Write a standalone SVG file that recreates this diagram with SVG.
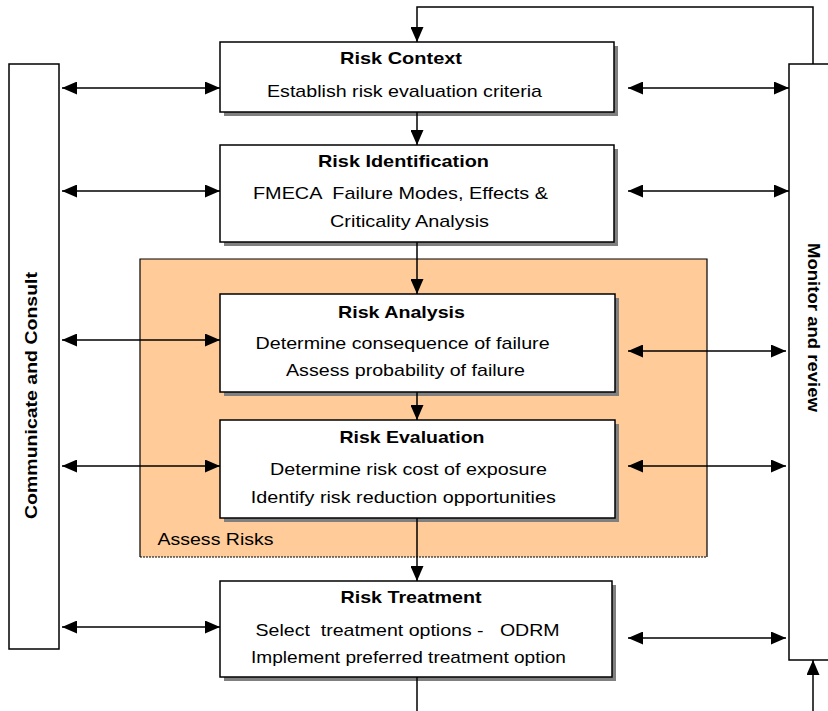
<svg xmlns="http://www.w3.org/2000/svg" width="828" height="711" viewBox="0 0 828 711">
<style>
.box{fill:#fff;stroke:#000;stroke-width:1.5}
.sh{fill:#808080}
.side{fill:#fff;stroke:#000;stroke-width:1.5}
.ln{stroke:#000;stroke-width:1.5;fill:none}
.t{font-family:"Liberation Sans",Arial,sans-serif;font-size:17px;fill:#000;text-anchor:middle}
.b{font-weight:bold}
</style>
<defs>
<marker id="ah" viewBox="0 0 15 13" refX="15" refY="6.5" markerWidth="15" markerHeight="13" markerUnits="userSpaceOnUse" orient="auto-start-reverse">
<path d="M0,0 L15,6.5 L0,13 Z" fill="#000"/>
</marker>
</defs>
<rect width="828" height="711" fill="#fff"/>
<g id="assess-risks">
<rect x="140" y="259" width="567" height="298" fill="#FFCC99"/>
<path d="M140,557 L140,259 L707,259 L707,557" fill="none" stroke="#000" stroke-width="1.2"/>
<line x1="140" y1="557" x2="707" y2="557" stroke="#000" stroke-width="1.2" stroke-dasharray="2,1"/>
<text class="t" x="157.5" y="545" style="text-anchor:start" textLength="116" lengthAdjust="spacingAndGlyphs">Assess Risks</text>
</g>
<g id="communicate">
<rect class="side" x="9" y="64" width="50" height="585"/>
<text class="t b" transform="translate(37,395.5) rotate(-90)" textLength="247" lengthAdjust="spacingAndGlyphs">Communicate and Consult</text>
</g>
<g id="monitor">
<rect class="side" x="789" y="64" width="60" height="596"/>
<text class="t b" transform="translate(808,327.5) rotate(90)" textLength="169" lengthAdjust="spacingAndGlyphs">Monitor and review</text>
</g>
<g id="risk-context">
<rect class="sh" x="224" y="46" width="394" height="70"/>
<rect class="box" x="220" y="42" width="394" height="70"/>
<text class="t b" x="401" y="64" textLength="122" lengthAdjust="spacingAndGlyphs">Risk Context</text>
<text class="t" x="404.5" y="97" textLength="275" lengthAdjust="spacingAndGlyphs">Establish risk evaluation criteria</text>
</g>
<g id="risk-identification">
<rect class="sh" x="224" y="149" width="394" height="97"/>
<rect class="box" x="220" y="145" width="394" height="97"/>
<text class="t b" x="403.5" y="167" textLength="171" lengthAdjust="spacingAndGlyphs">Risk Identification</text>
<text class="t" x="400.5" y="199" xml:space="preserve" textLength="295" lengthAdjust="spacingAndGlyphs">FMECA  Failure Modes, Effects &amp;</text>
<text class="t" x="409.5" y="227" textLength="159" lengthAdjust="spacingAndGlyphs">Criticality Analysis</text>
</g>
<g id="risk-analysis">
<rect class="sh" x="224" y="298" width="395" height="98"/>
<rect class="box" x="220" y="294" width="395" height="98"/>
<text class="t b" x="401.5" y="317.5" textLength="127" lengthAdjust="spacingAndGlyphs">Risk Analysis</text>
<text class="t" x="402.6" y="349" textLength="294" lengthAdjust="spacingAndGlyphs">Determine consequence of failure</text>
<text class="t" x="405.5" y="376" textLength="239" lengthAdjust="spacingAndGlyphs">Assess probability of failure</text>
</g>
<g id="risk-evaluation">
<rect class="sh" x="224" y="424" width="395" height="98"/>
<rect class="box" x="220" y="420" width="395" height="98"/>
<text class="t b" x="412" y="443" textLength="145" lengthAdjust="spacingAndGlyphs">Risk Evaluation</text>
<text class="t" x="408.5" y="475" textLength="277" lengthAdjust="spacingAndGlyphs">Determine risk cost of exposure</text>
<text class="t" x="403.3" y="503" textLength="305" lengthAdjust="spacingAndGlyphs">Identify risk reduction opportunities</text>
</g>
<g id="risk-treatment">
<rect class="sh" x="224" y="585" width="392" height="96"/>
<rect class="box" x="220" y="581" width="392" height="96"/>
<text class="t b" x="411" y="602.5" textLength="141" lengthAdjust="spacingAndGlyphs">Risk Treatment</text>
<text class="t" x="407.6" y="635.5" xml:space="preserve" textLength="304" lengthAdjust="spacingAndGlyphs">Select  treatment options -   ODRM</text>
<text class="t" x="408.5" y="662.5" textLength="315" lengthAdjust="spacingAndGlyphs">Implement preferred treatment option</text>
</g>
<g id="connectors">
<polyline class="ln" points="813,64 813,7 417,7 417,42" marker-end="url(#ah)"/>
<line class="ln" x1="417" y1="112" x2="417" y2="145" marker-end="url(#ah)"/>
<line class="ln" x1="417" y1="242" x2="417" y2="294" marker-end="url(#ah)"/>
<line class="ln" x1="417" y1="392" x2="417" y2="420" marker-end="url(#ah)"/>
<line class="ln" x1="417" y1="518" x2="417" y2="581" marker-end="url(#ah)"/>
<line class="ln" x1="417" y1="677" x2="417" y2="711"/>
<line class="ln" x1="813" y1="711" x2="813" y2="660" marker-end="url(#ah)"/>
<line class="ln" x1="62" y1="88" x2="220" y2="88" marker-start="url(#ah)" marker-end="url(#ah)"/>
<line class="ln" x1="62" y1="191" x2="220" y2="191" marker-start="url(#ah)" marker-end="url(#ah)"/>
<line class="ln" x1="62" y1="340" x2="220" y2="340" marker-start="url(#ah)" marker-end="url(#ah)"/>
<line class="ln" x1="62" y1="466" x2="220" y2="466" marker-start="url(#ah)" marker-end="url(#ah)"/>
<line class="ln" x1="62" y1="627" x2="220" y2="627" marker-start="url(#ah)" marker-end="url(#ah)"/>
<line class="ln" x1="628" y1="88" x2="789" y2="88" marker-start="url(#ah)" marker-end="url(#ah)"/>
<line class="ln" x1="628" y1="191" x2="789" y2="191" marker-start="url(#ah)" marker-end="url(#ah)"/>
<line class="ln" x1="628" y1="351" x2="786" y2="351" marker-start="url(#ah)" marker-end="url(#ah)"/>
<line class="ln" x1="628" y1="466" x2="786" y2="466" marker-start="url(#ah)" marker-end="url(#ah)"/>
<line class="ln" x1="628" y1="638" x2="786" y2="638" marker-start="url(#ah)" marker-end="url(#ah)"/>
</g>
</svg>
